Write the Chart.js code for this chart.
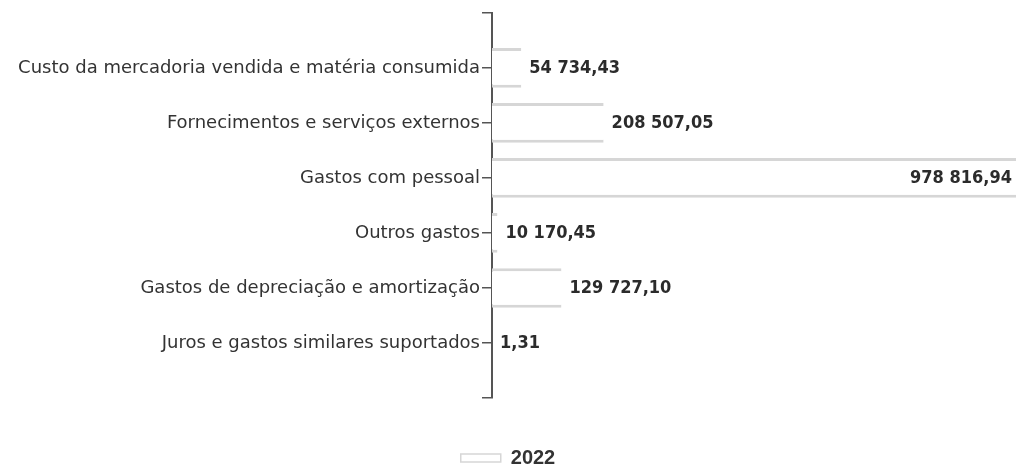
<!DOCTYPE html>
<html>
<head>
<meta charset="utf-8">
<script src="https://cdn.jsdelivr.net/npm/chart.js@4"></script>
<style>
  body { margin: 0; background: #fff; }
  #wrap { width: 1016px; height: 470px; position: relative; }
</style>
</head>
<body>
<div id="wrap"><canvas id="chart"></canvas></div>
<script>
const categories = [
  "Custo da mercadoria vendida e matéria consumida",
  "Fornecimentos e serviços externos",
  "Gastos com pessoal",
  "Outros gastos",
  "Gastos de depreciação e amortização",
  "Juros e gastos similares suportados"
];
const values2022 = [54734.43, 208507.05, 978816.94, 10170.45, 129727.10, 1.31];
const seriesLabel = "2022";

// empty slots at both ends give the bracket-shaped axis of the original
const labels = ["", ...categories, ""];
const data = [null, ...values2022, null];

function fmt(v) {
  const [i, d] = v.toFixed(2).split(".");
  return i.replace(/\B(?=(\d{3})+(?!\d))/g, " ") + "," + d;
}

const valueLabels = {
  id: "valueLabels",
  afterDatasetsDraw(chart) {
    const ctx = chart.ctx;
    const area = chart.chartArea;
    const meta = chart.getDatasetMeta(0);
    ctx.save();
    ctx.font = "bold 18px 'DejaVu Sans Condensed', 'DejaVu Sans', sans-serif";
    ctx.fillStyle = "#2b2b2b";
    ctx.textBaseline = "middle";
    meta.data.forEach((bar, i) => {
      const v = data[i];
      if (v == null) return;
      const txt = fmt(v);
      const w = ctx.measureText(txt).width;
      if (bar.x + 8 + w > area.right) {
        ctx.textAlign = "right";
        ctx.fillText(txt, bar.x - 4, bar.y);
      } else {
        ctx.textAlign = "left";
        ctx.fillText(txt, bar.x + 8, bar.y);
      }
    });
    ctx.restore();
  }
};

new Chart(document.getElementById("chart"), {
  type: "bar",
  data: {
    labels,
    datasets: [{
      label: seriesLabel,
      data,
      backgroundColor: "#ffffff",
      borderColor: "#d6d6d6",
      borderWidth: { top: 3, bottom: 3, left: 0, right: 0 },
      borderSkipped: false
    }]
  },
  options: {
    indexAxis: "y",
    responsive: true,
    maintainAspectRatio: false,
    animation: false,
    layout: { padding: { top: 12, right: 0, left: 0, bottom: -8 } },
    scales: {
      x: {
        min: 0,
        max: 978816.94,
        ticks: { display: false },
        grid: { display: false },
        border: { display: false },
        afterFit: s => { s.height = 46; }
      },
      y: {
        offset: false,
        grid: { offset: false, drawOnChartArea: false, tickLength: 10, color: "#555", lineWidth: 1.5 },
        border: { color: "#555", width: 2 },
        ticks: {
          padding: 2,
          color: "#333",
          font: { family: "'DejaVu Sans', sans-serif", size: 18 }
        },
        afterFit: s => { s.width = 492; }
      }
    },
    plugins: {
      tooltip: { enabled: false },
      legend: {
        position: "bottom",
        labels: {
          boxWidth: 40,
          boxHeight: 8,
          padding: 4,
          color: "#333",
          font: { family: "'Liberation Sans', Arial, sans-serif", size: 20, weight: "bold" }
        }
      }
    }
  },
  plugins: [valueLabels]
});
</script>
</body>
</html>
